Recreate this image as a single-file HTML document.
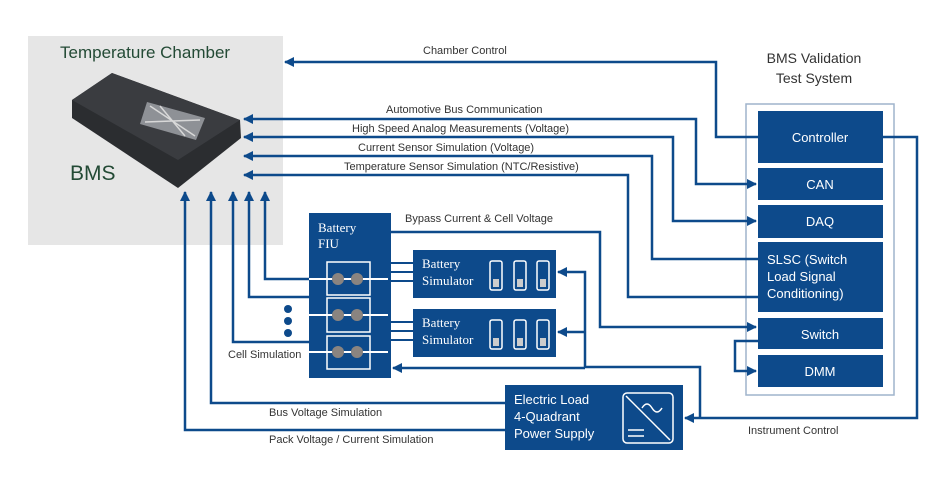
<!DOCTYPE html>
<html><head><meta charset="utf-8"><style>
html,body{margin:0;padding:0;background:#fff;}
svg{display:block;font-family:"Liberation Sans",Arial,sans-serif;}
</style></head><body>
<svg width="950" height="503" viewBox="0 0 950 503" xmlns="http://www.w3.org/2000/svg">
<defs>
<marker id="a" viewBox="0 0 10 10" refX="9" refY="5" markerWidth="4" markerHeight="4" orient="auto-start-reverse"><path d="M0,0L10,5L0,10z" fill="#0d4a8b"/></marker>
</defs>
<rect x="28" y="36" width="255" height="209" fill="#e6e6e6"/>
<text x="60" y="58" font-size="17" fill="#234a35">Temperature Chamber</text>
<text x="70" y="180" font-size="21" fill="#234a35">BMS</text>
<polygon points="72,100 112,73 240,120 241,138 178,188 72,118" fill="#2b2d30"/>
<polygon points="72,100 112,73 240,120 178,160 " fill="#3a3c40"/>
<polygon points="147,102 205,118 196,140 140,124" fill="#8e9196"/>
<g stroke="#d8d8d8" stroke-width="1.5">
<line x1="150" y1="106" x2="195" y2="136"/><line x1="160" y1="106" x2="185" y2="136"/><line x1="200" y1="120" x2="145" y2="122"/>
</g>

<rect x="746" y="104" width="148" height="291" fill="none" stroke="#9fb4cc" stroke-width="1.5"/>
<text x="814" y="63" font-size="14" fill="#333" text-anchor="middle">BMS Validation</text>
<text x="814" y="83" font-size="14" fill="#333" text-anchor="middle">Test System</text>
<g fill="#0d4a8b">
<rect x="758" y="111" width="125" height="52"/>
<rect x="758" y="168" width="125" height="32"/>
<rect x="758" y="205" width="125" height="33"/>
<rect x="758" y="242" width="125" height="70"/>
<rect x="758" y="318" width="125" height="31"/>
<rect x="758" y="355" width="125" height="32"/>
<rect x="309" y="213" width="82" height="165"/>
<rect x="413" y="250" width="143" height="48"/>
<rect x="413" y="309" width="143" height="48"/>
<rect x="505" y="385" width="178" height="65"/>
<circle cx="288" cy="309" r="4"/><circle cx="288" cy="321" r="4"/><circle cx="288" cy="333" r="4"/>
</g>
<g fill="#fff" font-size="13">
<text x="820" y="142" text-anchor="middle">Controller</text>
<text x="820" y="189" text-anchor="middle">CAN</text>
<text x="820" y="226" text-anchor="middle">DAQ</text>
<text x="767" y="264">SLSC (Switch</text>
<text x="767" y="281">Load Signal</text>
<text x="767" y="298">Conditioning)</text>
<text x="820" y="339" text-anchor="middle">Switch</text>
<text x="820" y="376" text-anchor="middle">DMM</text>
<text x="514" y="404">Electric Load</text>
<text x="514" y="421">4-Quadrant</text>
<text x="514" y="438">Power Supply</text>
</g>
<g fill="#fff" font-size="13" font-family="Liberation Serif,serif">
<text x="318" y="232">Battery</text><text x="318" y="248">FIU</text>
<text x="422" y="268">Battery</text><text x="422" y="285">Simulator</text>
<text x="422" y="327">Battery</text><text x="422" y="344">Simulator</text>
</g>
<g fill="none" stroke="#fff" stroke-width="1.5">
<rect x="490" y="261" width="12" height="29" rx="2"/><rect x="514" y="261" width="12" height="29" rx="2"/><rect x="537" y="261" width="12" height="29" rx="2"/>
<rect x="490" y="320" width="12" height="29" rx="2"/><rect x="514" y="320" width="12" height="29" rx="2"/><rect x="537" y="320" width="12" height="29" rx="2"/>
<rect x="623" y="393" width="50" height="50" rx="4"/>
<line x1="626" y1="396" x2="670" y2="440"/>
<path d="M642,408 q5,-8 10,0 t10,0"/>
<line x1="628" y1="430" x2="644" y2="430"/><line x1="628" y1="436" x2="644" y2="436"/>
</g>
<g fill="#ccc">
<rect x="493" y="279" width="6" height="8"/><rect x="517" y="279" width="6" height="8"/><rect x="540" y="279" width="6" height="8"/>
<rect x="493" y="338" width="6" height="8"/><rect x="517" y="338" width="6" height="8"/><rect x="540" y="338" width="6" height="8"/>
</g>
<g stroke="#fff" stroke-width="2">
<line x1="309" y1="279" x2="388" y2="279"/><line x1="309" y1="315" x2="388" y2="315"/><line x1="309" y1="352" x2="388" y2="352"/>
</g>
<g fill="none" stroke="#fff" stroke-width="1.5">
<rect x="327" y="262" width="43" height="33"/><rect x="327" y="298" width="43" height="34"/><rect x="327" y="336" width="43" height="33"/>
</g>
<g fill="#8a8480">
<circle cx="338" cy="279" r="6"/><circle cx="357" cy="279" r="6"/>
<circle cx="338" cy="315" r="6"/><circle cx="357" cy="315" r="6"/>
<circle cx="338" cy="352" r="6"/><circle cx="357" cy="352" r="6"/>
</g>
<g stroke="#0d4a8b" stroke-width="2">
<line x1="391" y1="263" x2="413" y2="263"/><line x1="391" y1="272" x2="413" y2="272"/><line x1="391" y1="281" x2="413" y2="281"/>
<line x1="391" y1="322" x2="413" y2="322"/><line x1="391" y1="331" x2="413" y2="331"/><line x1="391" y1="340" x2="413" y2="340"/>
</g>
<g fill="none" stroke="#0d4a8b" stroke-width="2.5">
<path d="M758,137H716V62H285" marker-end="url(#a)"/>
<path d="M244,119H696V184H756" marker-start="url(#a)" marker-end="url(#a)"/>
<path d="M244,137H673V221H756" marker-start="url(#a)" marker-end="url(#a)"/>
<path d="M244,156H652V259H758" marker-start="url(#a)"/>
<path d="M244,175H628V297H758" marker-start="url(#a)"/>
<path d="M391,232H600V327H756" marker-end="url(#a)"/>
<path d="M758,341H735V371H756" marker-end="url(#a)"/>
<path d="M883,137H917V418H685" marker-end="url(#a)"/>
<path d="M700,418V367H585V272H558" marker-end="url(#a)"/>
<path d="M585,332H558" marker-end="url(#a)"/>
<path d="M585,368H393" marker-end="url(#a)"/>
<path d="M309,279H265V192" marker-end="url(#a)"/>
<path d="M309,297H249V192" marker-end="url(#a)"/>
<path d="M309,342H233V192" marker-end="url(#a)"/>
<path d="M505,403H211V192" marker-end="url(#a)"/>
<path d="M505,430H185V192" marker-end="url(#a)"/>
</g>
<g font-size="11" fill="#333">
<text x="423" y="54">Chamber Control</text>
<text x="386" y="113">Automotive Bus Communication</text>
<text x="352" y="132">High Speed Analog Measurements (Voltage)</text>
<text x="358" y="151">Current Sensor Simulation (Voltage)</text>
<text x="344" y="170">Temperature Sensor Simulation (NTC/Resistive)</text>
<text x="405" y="222">Bypass Current &amp; Cell Voltage</text>
<text x="228" y="358">Cell Simulation</text>
<text x="269" y="416">Bus Voltage Simulation</text>
<text x="269" y="443">Pack Voltage / Current Simulation</text>
<text x="748" y="434">Instrument Control</text>
</g>
</svg>
</body></html>
